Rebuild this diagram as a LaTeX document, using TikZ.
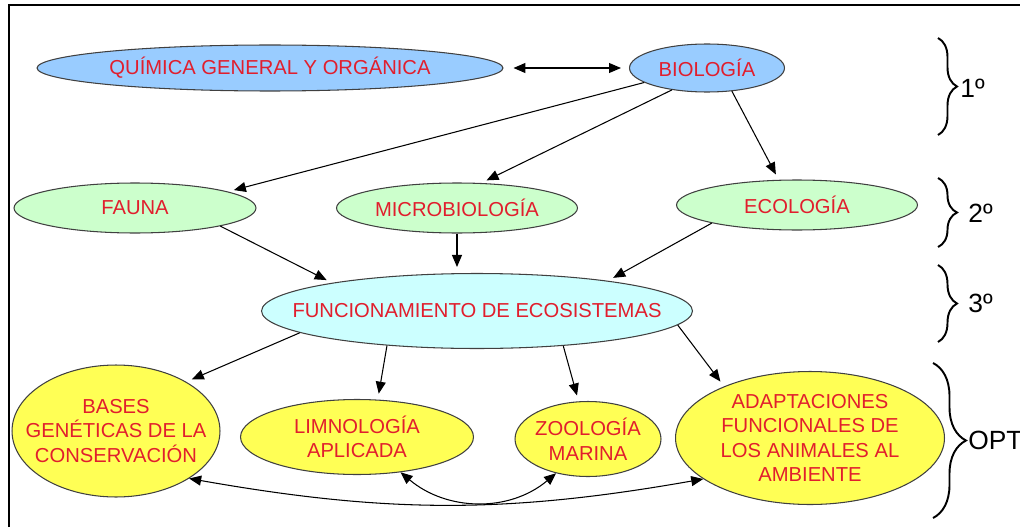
\documentclass[tikz,border=0pt]{standalone}
\usepackage{fontspec}
\setmainfont{Liberation Sans}
\usetikzlibrary{shapes.geometric,arrows.meta,decorations.pathreplacing}
\definecolor{txtred}{RGB}{225,30,45}
\definecolor{blfill}{RGB}{153,204,255}
\definecolor{grfill}{RGB}{204,255,204}
\definecolor{cyfill}{RGB}{204,255,255}
\definecolor{yefill}{RGB}{255,255,85}
\begin{document}
\begin{tikzpicture}[x=0.02cm, y=-0.02cm,
    ell/.style={ellipse, draw=black!75, line width=0.6pt, inner sep=0pt},
    txt/.style={label={[font=\fontsize{11.5}{14}\selectfont, text=txtred, align=center]center:#1}},
    arr/.style={line width=0.6pt, -{Triangle[length=2.4mm,width=2mm]}, shorten >=1.2mm},
    darr/.style={line width=0.6pt, {Triangle[length=2.4mm,width=2mm]}-{Triangle[length=2.4mm,width=2mm]}},
    brc/.style={decorate, decoration={brace, amplitude=#1}, line width=1.1pt},
    lvl/.style={font=\fontsize{15}{18}\selectfont, anchor=west, inner sep=0pt}]
    \useasboundingbox (0,0) rectangle (1020,527);
    \draw[line width=1.2pt] (9,527) -- (9,5) -- (1020,5);

    \node[ell, fill=blfill, minimum width=9.32cm, minimum height=0.92cm, txt={QUÍMICA GENERAL Y ORGÁNICA}] (quim) at (270,68) {};
    \node[ell, fill=blfill, minimum width=3.1cm, minimum height=0.96cm, txt={BIOLOGÍA}] (bio) at (707,68) {};
    \node[ell, fill=grfill, minimum width=4.84cm, minimum height=1cm, txt={FAUNA}] (fauna) at (135,208) {};
    \node[ell, fill=grfill, minimum width=4.82cm, minimum height=1cm, txt={MICROBIOLOGÍA}] (micro) at (457,208) {};
    \node[ell, fill=grfill, minimum width=4.82cm, minimum height=1cm, txt={ECOLOGÍA}] (eco) at (797,205) {};
    \node[ell, fill=cyfill, minimum width=8.62cm, minimum height=1.5cm, txt={FUNCIONAMIENTO DE ECOSISTEMAS}] (func) at (477,311) {};
    \node[ell, fill=yefill, minimum width=4.16cm, minimum height=2.64cm, txt={BASES\\GENÉTICAS DE LA\\CONSERVACIÓN}] (bases) at (116,431) {};
    \node[ell, fill=yefill, minimum width=4.66cm, minimum height=1.5cm, txt={LIMNOLOGÍA\\APLICADA}] (limno) at (357,437) {};
    \node[ell, fill=yefill, minimum width=2.92cm, minimum height=1.5cm, txt={ZOOLOGÍA\\MARINA}] (zool) at (588,439) {};
    \node[ell, fill=yefill, minimum width=5.38cm, minimum height=2.66cm, txt={ADAPTACIONES\\FUNCIONALES DE\\LOS ANIMALES AL\\AMBIENTE}] (adapt) at (810,438) {};

    \draw[darr, shorten <=2mm, shorten >=1.6mm] (quim) -- (bio);
    \draw[arr] (bio.193) -- (fauna.10);
    \draw[arr] (bio.212) -- (micro.46);
    \draw[arr] (bio.317) -- (eco.126);
    \draw[arr] (fauna.-12) -- (func.169);
    \draw[arr] (micro.south) -- (micro.south |- func.north);
    \draw[arr] (eco.192) -- (func.13);
    \draw[arr] (func.187) -- (bases.35);
    \draw[arr] (func.201) -- (limno.61);
    \draw[arr] (func.-22) -- (zool.104);
    \draw[arr] (func.-4) -- (adapt.149);
    \draw[darr] (bases.-33) to[out=-10, in=190] (adapt.201);
    \draw[darr] (limno.-39) to[out=-40, in=220] (zool.227);

    \draw[brc=0.38cm] (938,38) -- (938,135);
    \draw[brc=0.38cm] (938,178) -- (938,247);
    \draw[brc=0.38cm] (938,265) -- (938,342);
    \draw[brc=0.66cm] (933,363) -- (933,518);
    \node[lvl] (l1) at (960,88) {1º};
    \node[lvl] (l2) at (968,213) {2º};
    \node[lvl] (l3) at (968,303) {3º};
    \node[lvl] (lopt) at (968,440) {OPT};
\end{tikzpicture}
\end{document}
